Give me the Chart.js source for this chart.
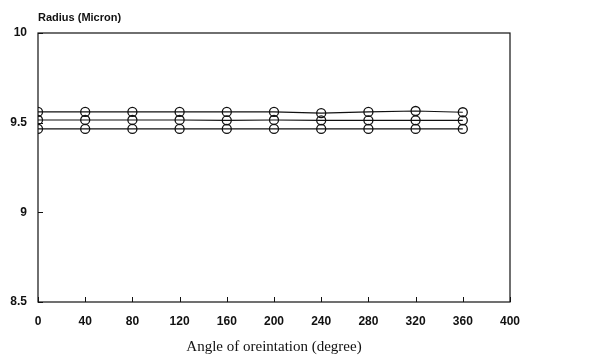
<!DOCTYPE html>
<html>
<head>
<meta charset="utf-8">
<script src="https://cdn.jsdelivr.net/npm/chart.js@4.4.1/dist/chart.umd.min.js"></script>
<style>
  html, body { margin: 0; padding: 0; background: #fff; }
  #wrap { width: 609px; height: 360px; position: relative; }
</style>
</head>
<body>
<div id="wrap"><canvas id="c" width="609" height="360"></canvas></div>
<script>
// Orientation angles (degrees) and measured fibre radius (micron) for three runs
const angles = [0, 40, 80, 120, 160, 200, 240, 280, 320, 360];
const radiusUpper  = [9.56, 9.56, 9.56, 9.56, 9.56, 9.56, 9.553, 9.56, 9.565, 9.558];
const radiusMiddle = [9.515, 9.515, 9.515, 9.515, 9.513, 9.515, 9.513, 9.513, 9.513, 9.513];
const radiusLower  = [9.465, 9.465, 9.465, 9.465, 9.465, 9.465, 9.465, 9.465, 9.465, 9.465];
const xTicks = [0, 40, 80, 120, 160, 200, 240, 280, 320, 360, 400];
const yTicks = [8.5, 9, 9.5, 10];

const series = [radiusUpper, radiusMiddle, radiusLower];

function toPoints(vals) {
  return angles.map((a, i) => ({ x: a, y: vals[i] }));
}

// Frame box, inward ticks and the y-axis caption
const framePlugin = {
  id: 'frame',
  afterDraw(chart) {
    const { ctx, chartArea: a, scales } = chart;
    ctx.save();
    ctx.strokeStyle = '#111';
    ctx.lineWidth = 1.2;
    ctx.strokeRect(a.left, a.top, a.right - a.left, a.bottom - a.top);
    ctx.lineWidth = 1;
    ctx.beginPath();
    xTicks.forEach(v => {
      const px = Math.round(scales.x.getPixelForValue(v)) + 0.5;
      ctx.moveTo(px, a.bottom);
      ctx.lineTo(px, a.bottom - 5);
    });
    yTicks.forEach(v => {
      const py = Math.round(scales.y.getPixelForValue(v)) + 0.5;
      ctx.moveTo(a.left, py);
      ctx.lineTo(a.left + 5, py);
    });
    ctx.stroke();
    ctx.fillStyle = '#111';
    ctx.font = 'bold 11px "Liberation Sans", sans-serif';
    ctx.textAlign = 'left';
    ctx.textBaseline = 'alphabetic';
    ctx.fillText('Radius (Micron)', a.left, a.top - 12);
    ctx.restore();
  }
};

new Chart(document.getElementById('c'), {
  type: 'scatter',
  data: {
    datasets: series.map(vals => ({
      data: toPoints(vals),
      showLine: true,
      borderColor: '#111',
      borderWidth: 1.2,
      pointRadius: 4.5,
      pointHoverRadius: 4.5,
      pointBorderWidth: 1.3,
      pointBorderColor: '#111',
      pointBackgroundColor: 'rgba(0,0,0,0)',
      tension: 0
    }))
  },
  options: {
    responsive: false,
    animation: false,
    events: [],
    layout: { padding: { top: 33, right: 99, left: 0, bottom: 0 } },
    plugins: { legend: { display: false }, tooltip: { enabled: false } },
    scales: {
      x: {
        type: 'linear',
        min: 0, max: 400,
        afterBuildTicks(s) { s.ticks = xTicks.map(v => ({ value: v })); },
        afterFit(s) { s.height = 58; },
        grid: { display: false },
        border: { display: false },
        ticks: {
          padding: 4,
          color: '#111',
          font: { family: '"Liberation Sans", sans-serif', size: 12, weight: 'bold' },
          maxRotation: 0
        },
        title: {
          display: true,
          text: 'Angle of oreintation (degree)',
          color: '#111',
          font: { family: '"Liberation Serif", serif', size: 15 },
          padding: { top: 4 }
        }
      },
      y: {
        type: 'linear',
        min: 8.5, max: 10,
        afterBuildTicks(s) { s.ticks = yTicks.map(v => ({ value: v })); },
        afterFit(s) { s.width = 38; },
        grid: { display: false },
        border: { display: false },
        ticks: {
          padding: 3,
          color: '#111',
          font: { family: '"Liberation Sans", sans-serif', size: 12, weight: 'bold' },
          callback: v => String(v)
        }
      }
    }
  },
  plugins: [framePlugin]
});
</script>
</body>
</html>
